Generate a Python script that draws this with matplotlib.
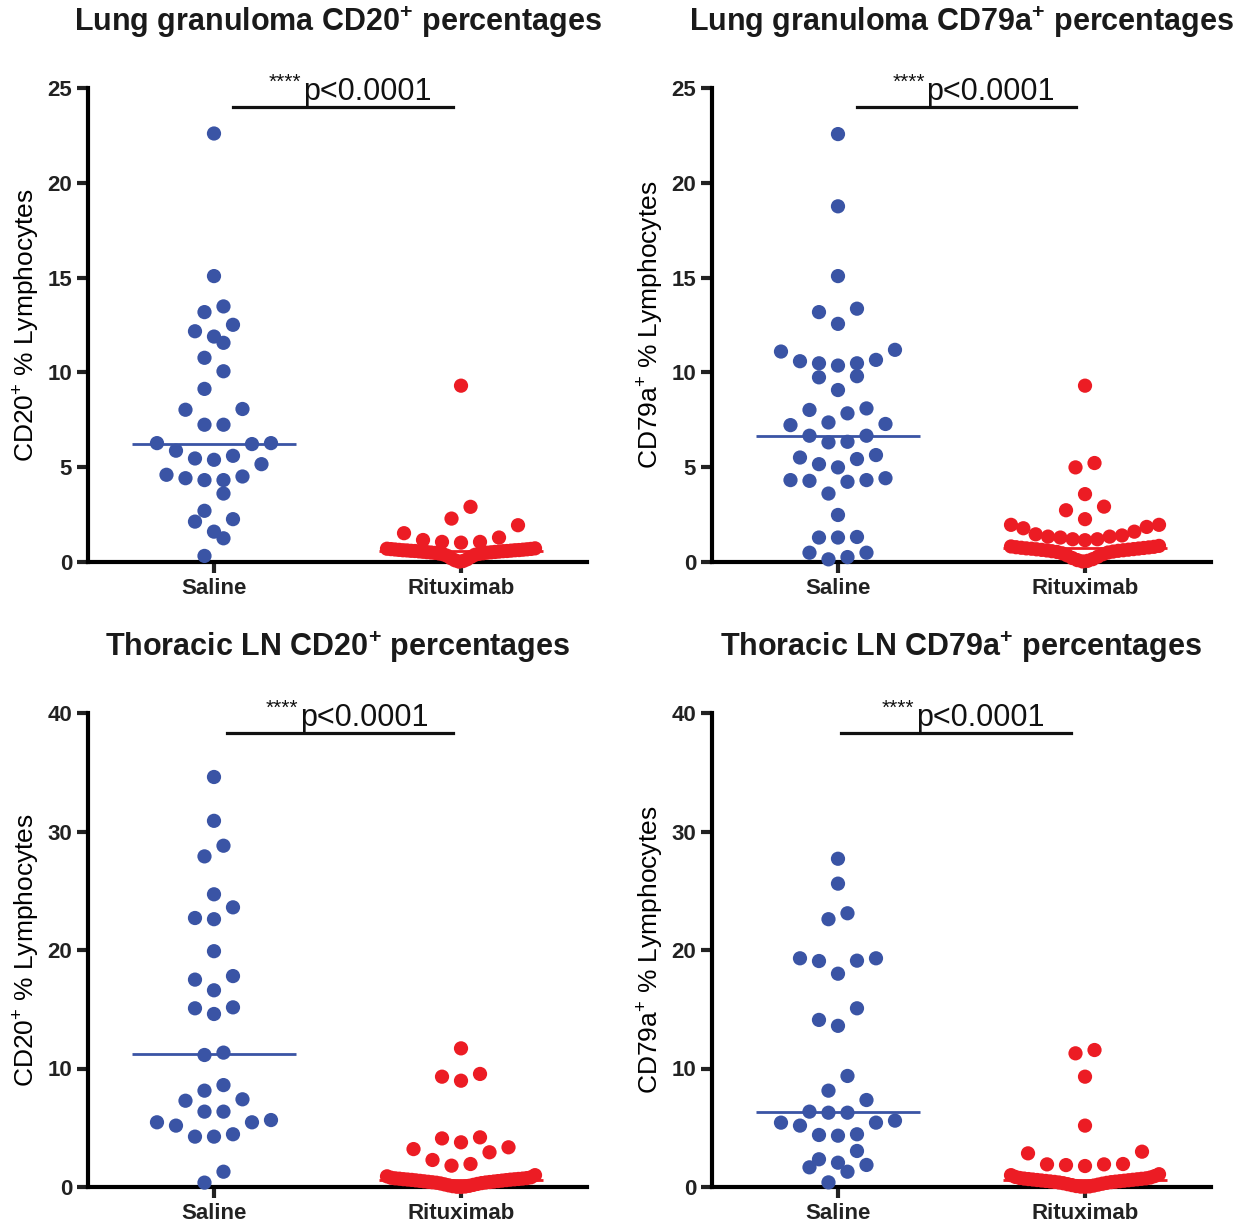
import numpy as np
import matplotlib
matplotlib.use('Agg')
import matplotlib.pyplot as plt

plt.rcParams['font.family'] = ['Liberation Sans', 'DejaVu Sans']
plt.rcParams['mathtext.default'] = 'regular'

groups = ['Saline', 'Rituximab']
blue = '#3a54a5'
red = '#ec1c24'

# values (% lymphocytes)
lung_cd20_saline = [22.6, 15.08, 13.48, 13.18, 12.51, 12.17, 11.89, 11.56, 10.77, 10.06,
                    9.13, 8.07, 8.03, 7.24, 7.24, 6.27, 6.22, 6.27, 5.87, 5.6, 5.39, 5.46,
                    5.16, 4.51, 4.32, 4.32, 4.42, 4.6, 3.61, 2.7, 2.13, 2.26, 1.6, 1.25, 0.32]
lung_cd20_ritux = [9.3, 2.91, 2.29, 1.94, 1.52, 1.16, 1.06, 1.02, 1.06, 1.29,
                   0.02, 0.05, 0.09, 0.14, 0.2, 0.27, 0.33, 0.38, 0.41, 0.43, 0.45, 0.46,
                   0.48, 0.49, 0.5, 0.51, 0.52, 0.53, 0.54, 0.55, 0.56, 0.57, 0.58, 0.58,
                   0.59, 0.6, 0.61, 0.62, 0.62, 0.63, 0.64, 0.65, 0.66, 0.67, 0.68, 0.69,
                   0.7, 0.72]

lung_cd79_saline = [22.57, 18.76, 15.08, 13.18, 13.36, 12.56, 11.19, 10.66, 10.48, 10.36,
                    10.48, 10.59, 11.1, 9.74, 9.8, 9.07, 8.02, 8.1, 7.84, 7.36, 7.28, 7.22,
                    6.66, 6.66, 6.34, 6.31, 5.64, 5.43, 5.51, 5.16, 4.99, 4.42, 4.32, 4.23,
                    4.28, 4.32, 3.61, 2.48, 1.29, 1.29, 1.32, 0.49, 0.49, 0.14, 0.26]
lung_cd79_ritux = [9.3, 4.99, 5.22, 3.58, 2.92, 2.73, 2.26,
                   1.96, 1.78, 1.46, 1.34, 1.29, 1.2, 1.15, 1.2, 1.34, 1.4, 1.6, 1.85, 1.96,
                   0.03, 0.06, 0.1, 0.15, 0.21, 0.28, 0.35, 0.41, 0.46, 0.5, 0.53, 0.55,
                   0.57, 0.59, 0.61, 0.62, 0.64, 0.65, 0.67, 0.68, 0.7, 0.71, 0.72, 0.74,
                   0.75, 0.77, 0.78, 0.8, 0.82, 0.85]

ln_cd20_saline = [34.6, 30.9, 28.8, 27.9, 24.7, 23.6, 22.6, 22.7, 19.9, 17.8, 17.5, 16.6,
                  15.08, 15.16, 14.6, 11.14, 11.34, 8.6, 8.13, 7.28, 7.4, 6.36, 6.36, 5.46,
                  5.18, 5.46, 5.65, 4.25, 4.25, 4.45, 1.29, 0.37]
ln_cd20_ritux = [11.7, 9.31, 8.97, 9.54, 4.19, 3.77, 4.1, 3.35, 2.93, 3.2, 1.94, 1.8, 2.28,
                 0.01, 0.02, 0.04, 0.07, 0.1, 0.14, 0.18, 0.22, 0.26, 0.3, 0.33, 0.36,
                 0.38, 0.4, 0.42, 0.44, 0.46, 0.48, 0.5, 0.52, 0.54, 0.56, 0.58, 0.6,
                 0.62, 0.63, 0.65, 0.66, 0.68, 0.7, 0.71, 0.73, 0.75, 0.78, 0.82, 0.9, 1.0]

ln_cd79_saline = [27.7, 25.6, 23.1, 22.6, 19.3, 19.07, 18.0, 19.1, 19.3, 15.08, 14.1, 13.6,
                  9.37, 8.13, 7.34, 6.27, 6.27, 6.36, 5.6, 5.43, 5.18, 5.43, 4.45, 4.33,
                  4.39, 3.04, 2.34, 1.66, 2.05, 1.29, 1.86, 0.39]
ln_cd79_ritux = [11.28, 11.56, 9.31, 5.18, 2.84, 2.98, 1.91, 1.77, 1.85, 1.91, 1.94,
                 0.02, 0.03, 0.05, 0.08, 0.12, 0.16, 0.2, 0.24, 0.28, 0.32, 0.35, 0.38,
                 0.41, 0.43, 0.45, 0.47, 0.49, 0.51, 0.53, 0.55, 0.57, 0.59, 0.61, 0.63,
                 0.65, 0.67, 0.69, 0.71, 0.73, 0.76, 0.8, 0.85, 0.92, 1.0, 1.08]

W, H = 1248, 1223
fig = plt.figure(figsize=(W / 100, H / 100), dpi=100)


def swarm(vals, ppu, ppx, step=19.0, rowh=18.5, maxw=74.0):
    # Prism-like scatter: group sorted values into rows one dot high,
    # spread each row out from the middle, lowest value in the centre
    vals = np.asarray(vals, float)
    order = np.argsort(vals, kind='stable')
    rows, cur = [], []
    for i in order:
        if cur and (vals[i] - vals[cur[0]]) * ppu >= rowh:
            rows.append(cur)
            cur = []
        cur.append(i)
    rows.append(cur)
    xs = np.zeros(len(vals))
    for row in rows:
        n = len(row)
        sp = step if (n - 1) * step <= 2 * maxw else 2 * maxw / (n - 1)
        offs = (np.arange(n) - (n - 1) / 2) * sp
        offs = sorted(offs, key=lambda o: (round(abs(o), 6), o))
        for i, o in zip(row, offs):
            xs[i] = o / ppx
    return xs


def panel(left_px, top_px, title, ylabel, sal, rit, ymax, step, bar_x, bar_y):
    w_px, h_px = 499, 474
    ax = fig.add_axes([left_px / W, 1 - (top_px + h_px) / H, w_px / W, h_px / H])
    ax.set_xlim(-0.51, 1.51)
    ax.set_ylim(0, ymax)
    ppu = h_px / ymax
    ppx = w_px / 2.02
    for k, (vals, col) in enumerate([(sal, blue), (rit, red)]):
        xs = swarm(vals, ppu, ppx)
        ax.scatter(k + xs, vals, s=105, color=col, edgecolors='none',
                   clip_on=False, zorder=3)
        ax.plot([k - 0.33, k + 0.33], [np.median(vals)] * 2, color=col, lw=2,
                zorder=4, solid_capstyle='butt')
    for s in ['top', 'right']:
        ax.spines[s].set_visible(False)
    for s in ['left', 'bottom']:
        ax.spines[s].set_linewidth(3)
    ax.set_yticks(np.arange(0, ymax + 1, step))
    ax.set_xticks([0, 1])
    ax.set_xticklabels(groups)
    ax.tick_params(length=8, width=3, labelsize=16, colors='#222222')
    for lab in ax.get_xticklabels() + ax.get_yticklabels():
        lab.set_fontweight('bold')
    ax.set_ylabel(ylabel, fontsize=19, labelpad=4)
    ax.text(0.5, 1 + 66 / h_px, title, transform=ax.transAxes, ha='center',
            va='center', fontsize=22, fontweight='bold', color='#1a1a1a')
    ax.plot(bar_x, [bar_y, bar_y], color='#111111', lw=2.3, clip_on=False)
    mid = np.mean(bar_x)
    ax.annotate('p<0.0001', (mid, bar_y), xytext=(-29, 5), textcoords='offset points',
                ha='left', va='baseline', fontsize=22, color='#111111')
    ax.annotate('****', (mid, bar_y), xytext=(-30, 14), textcoords='offset points',
                ha='right', va='baseline', fontsize=15, color='#111111')
    return ax


panel(88, 88, 'Lung granuloma CD20$^{+}$ percentages', 'CD20$^{+}$ % Lymphocytes',
      lung_cd20_saline, lung_cd20_ritux, 25, 5, [0.077, 0.968], 24.0)
panel(712, 88, 'Lung granuloma CD79a$^{+}$ percentages', 'CD79a$^{+}$ % Lymphocytes',
      lung_cd79_saline, lung_cd79_ritux, 25, 5, [0.077, 0.964], 24.0)
panel(88, 713, 'Thoracic LN CD20$^{+}$ percentages', 'CD20$^{+}$ % Lymphocytes',
      ln_cd20_saline, ln_cd20_ritux, 40, 10, [0.053, 0.968], 38.3)
panel(712, 713, 'Thoracic LN CD79a$^{+}$ percentages', 'CD79a$^{+}$ % Lymphocytes',
      ln_cd79_saline, ln_cd79_ritux, 40, 10, [0.012, 0.944], 38.3)

fig.savefig('out.png', dpi=100)
